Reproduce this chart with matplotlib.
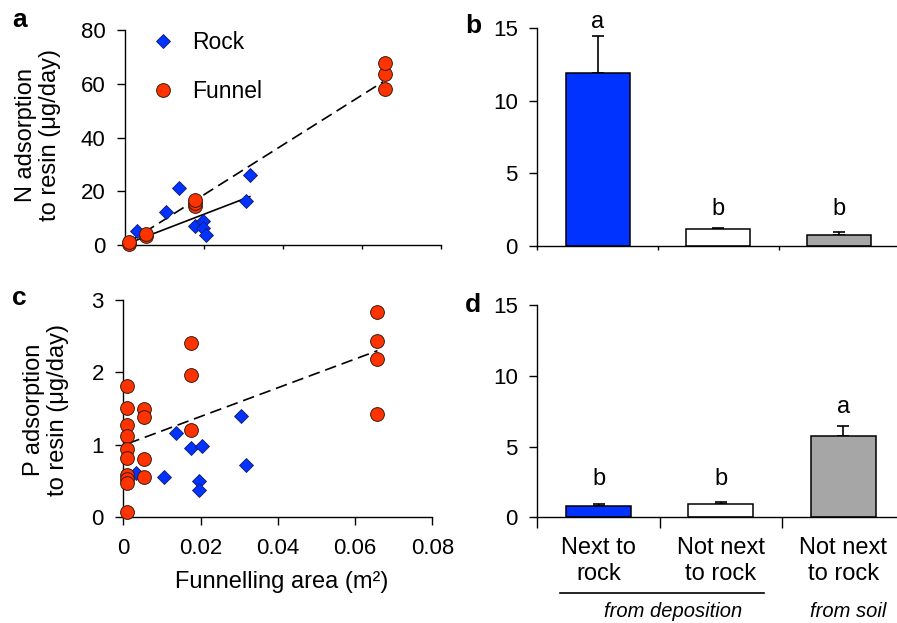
import matplotlib
matplotlib.use("Agg")
import matplotlib.pyplot as plt
import matplotlib.transforms as mtrans
import numpy as np

plt.rcParams['font.family'] = ['Liberation Sans', 'DejaVu Sans']

# ---------------- data ----------------
# panel a: N adsorption vs funnelling area
rock_N_x = [0.0030, 0.0104, 0.0136, 0.0176, 0.0197, 0.0198, 0.0205, 0.0306, 0.0316]
rock_N_y = [5.2, 12.2, 21.1, 7.1, 8.9, 6.2, 3.6, 16.5, 26.0]
funnel_N_x = [0.0011, 0.0011, 0.0052, 0.0052, 0.0176, 0.0176, 0.0176, 0.0658, 0.0658, 0.0658]
funnel_N_y = [0.5, 1.0, 3.5, 4.0, 14.5, 15.5, 16.7, 57.9, 63.6, 67.6]
fit_N_funnel_x = [0.0011, 0.0654]
fit_N_funnel_y = [1.2, 60.8]
fit_N_rock_x = [0.0008, 0.0316]
fit_N_rock_y = [0.6, 18.0]

# panel c: P adsorption vs funnelling area
rock_P_x = [0.0033, 0.0105, 0.0136, 0.0176, 0.0204, 0.0197, 0.0196, 0.0306, 0.0317]
rock_P_y = [0.61, 0.55, 1.16, 0.95, 0.99, 0.50, 0.38, 1.40, 0.72]
funnel_P_x = [0.0010] * 10 + [0.0053] * 4 + [0.0174] * 3 + [0.0658] * 4
funnel_P_y = [1.81, 1.51, 1.28, 1.12, 0.94, 0.82, 0.59, 0.53, 0.48, 0.07,
              1.49, 1.38, 0.80, 0.55,
              2.40, 1.97, 1.20,
              2.84, 2.44, 2.19, 1.43]
fit_P_funnel_x = [0.0013, 0.0658]
fit_P_funnel_y = [1.02, 2.30]

x_ticks = [0, 0.02, 0.04, 0.06, 0.08]
x_ticklabels = ["0", "0.02", "0.04", "0.06", "0.08"]

# panels b, d: bars
categories = ["Next to\nrock", "Not next\nto rock", "Not next\nto rock"]
bar_colors = ["#0033FF", "#FFFFFF", "#A6A6A6"]
N_means = [11.9, 1.15, 0.71]
N_err = [2.6, 0.09, 0.21]
N_letters = ["a", "b", "b"]
N_letter_y = [15.0, 2.1, 2.1]
P_means = [0.80, 0.92, 5.75]
P_err = [0.12, 0.18, 0.72]
P_letters = ["b", "b", "a"]
P_letter_y = [2.3, 2.3, 7.35]

# ---------------- figure ----------------
W, H = 897, 623
fig = plt.figure(figsize=(W / 100, H / 100), dpi=100)


def ax_px(l, r, top, bot):
    return fig.add_axes([l / W, (H - bot) / H, (r - l) / W, (bot - top) / H])


BLUE = "#0033FF"
RED = "#FF3300"
TICK_FS = 16
LAB_FS = 17


def style_axes(ax, xtick_len):
    for s in ("top", "right"):
        ax.spines[s].set_visible(False)
    for s in ("left", "bottom"):
        ax.spines[s].set_linewidth(1.0)
    ax.tick_params(axis="y", direction="out", length=6, width=1.0,
                   labelsize=TICK_FS, pad=8)
    ax.tick_params(axis="x", direction="out", length=xtick_len, width=1.0,
                   labelsize=TICK_FS, pad=9)


# panel a
axa = ax_px(125, 441, 30, 245)
axa.plot(fit_N_funnel_x, fit_N_funnel_y, color="black", lw=1.2,
         linestyle=(0, (7, 3.5)), zorder=1)
axa.plot(fit_N_rock_x, fit_N_rock_y, color="black", lw=1.2, zorder=1)
axa.plot(rock_N_x, rock_N_y, linestyle="none", marker="D", ms=7.2,
         mfc=BLUE, mec="#1a1a60", mew=0.6, label="Rock", zorder=2, clip_on=False)
axa.plot(funnel_N_x, funnel_N_y, linestyle="none", marker="o", ms=9.9,
         mfc=RED, mec="#3a1a10", mew=0.7, label="Funnel", zorder=3, clip_on=False)
axa.set_xlim(0, 0.08)
axa.set_ylim(0, 80)
axa.set_xticks(x_ticks)
axa.set_xticklabels([])
axa.set_yticks([0, 20, 40, 60, 80])
style_axes(axa, 3)
axa.legend(loc="upper left", bbox_to_anchor=(0.084, 0.995), frameon=False,
           fontsize=16.5, handlelength=1.0, handletextpad=0.75,
           labelspacing=1.15, borderpad=0, borderaxespad=0, numpoints=1)

# panel c
axc = ax_px(123.3, 432.3, 300, 517.3)
axc.plot(fit_P_funnel_x, fit_P_funnel_y, color="black", lw=1.2,
         linestyle=(0, (7, 3.5)), zorder=1)
axc.plot(rock_P_x, rock_P_y, linestyle="none", marker="D", ms=7.2,
         mfc=BLUE, mec="#1a1a60", mew=0.6, zorder=2, clip_on=False)
axc.plot(funnel_P_x, funnel_P_y, linestyle="none", marker="o", ms=9.9,
         mfc=RED, mec="#3a1a10", mew=0.7, zorder=3, clip_on=False)
axc.set_xlim(0, 0.08)
axc.set_ylim(0, 3)
axc.set_xticks(x_ticks)
axc.set_xticklabels(x_ticklabels)
axc.set_yticks([0, 1, 2, 3])
style_axes(axc, 6)

# y labels / x label
fig.text(38 / W, 1 - 135 / H, "N adsorption\nto resin (μg/day)", rotation=90,
         ha="center", va="center", multialignment="center", fontsize=LAB_FS,
         linespacing=1.15)
fig.text(46 / W, 1 - 410 / H, "P adsorption\nto resin (μg/day)", rotation=90,
         ha="center", va="center", multialignment="center", fontsize=LAB_FS,
         linespacing=1.15)
fig.text(282 / W, 1 - 582 / H, "Funnelling area (m²)", ha="center", va="center",
         fontsize=LAB_FS)


# bar panels
def bar_panel(ax, means, errs, letters, letter_y, sep_len):
    xs = np.arange(len(means))
    ax.bar(xs, means, width=0.53, color=bar_colors, edgecolor="black",
           linewidth=1.1, zorder=2)
    ax.errorbar(xs, means, yerr=[np.zeros(len(errs)), errs], fmt="none",
                ecolor="black", elinewidth=1.2, capsize=4.5, capthick=1.2,
                zorder=1)
    for x, t, y in zip(xs, letters, letter_y):
        ax.text(x, y, t, ha="center", va="baseline", fontsize=LAB_FS,
                clip_on=False)
    ax.set_xlim(-0.5, 2.5)
    ax.set_ylim(0, 15)
    ax.set_yticks([0, 5, 10, 15])
    ax.set_xticks([-0.5, 0.5, 1.5])
    ax.set_xticklabels([])
    style_axes(ax, sep_len)


axb = ax_px(537.3, 537.3 + 3 * 120.7, 28.3, 245.7)
bar_panel(axb, N_means, N_err, N_letters, N_letter_y, 3)

axd = ax_px(537.3, 537.3 + 3 * 122.4, 305, 517.3)
bar_panel(axd, P_means, P_err, P_letters, P_letter_y, 8)

trans = mtrans.blended_transform_factory(axd.transData, axd.transAxes)
for x, lab in enumerate(categories):
    axd.text(x, -0.095, lab, transform=trans, ha="center", va="top",
             multialignment="center", fontsize=LAB_FS, linespacing=1.2)
axd.plot([-0.315, 1.352], [-0.358, -0.358], transform=trans, color="black",
         lw=1.2, clip_on=False)
axd.text(0.61, -0.445, "from deposition", transform=trans, ha="center",
         va="center", fontsize=14.5, style="italic")
axd.text(2.04, -0.445, "from soil", transform=trans, ha="center",
         va="center", fontsize=14.5, style="italic")

# panel letters
for (px, py, t) in [(12, 20, "a"), (465, 26, "b"), (12, 298, "c"), (465, 305, "d")]:
    fig.text(px / W, 1 - py / H, t, ha="left", va="center", fontsize=19,
             fontweight="bold")

fig.savefig("out.png", dpi=100)
